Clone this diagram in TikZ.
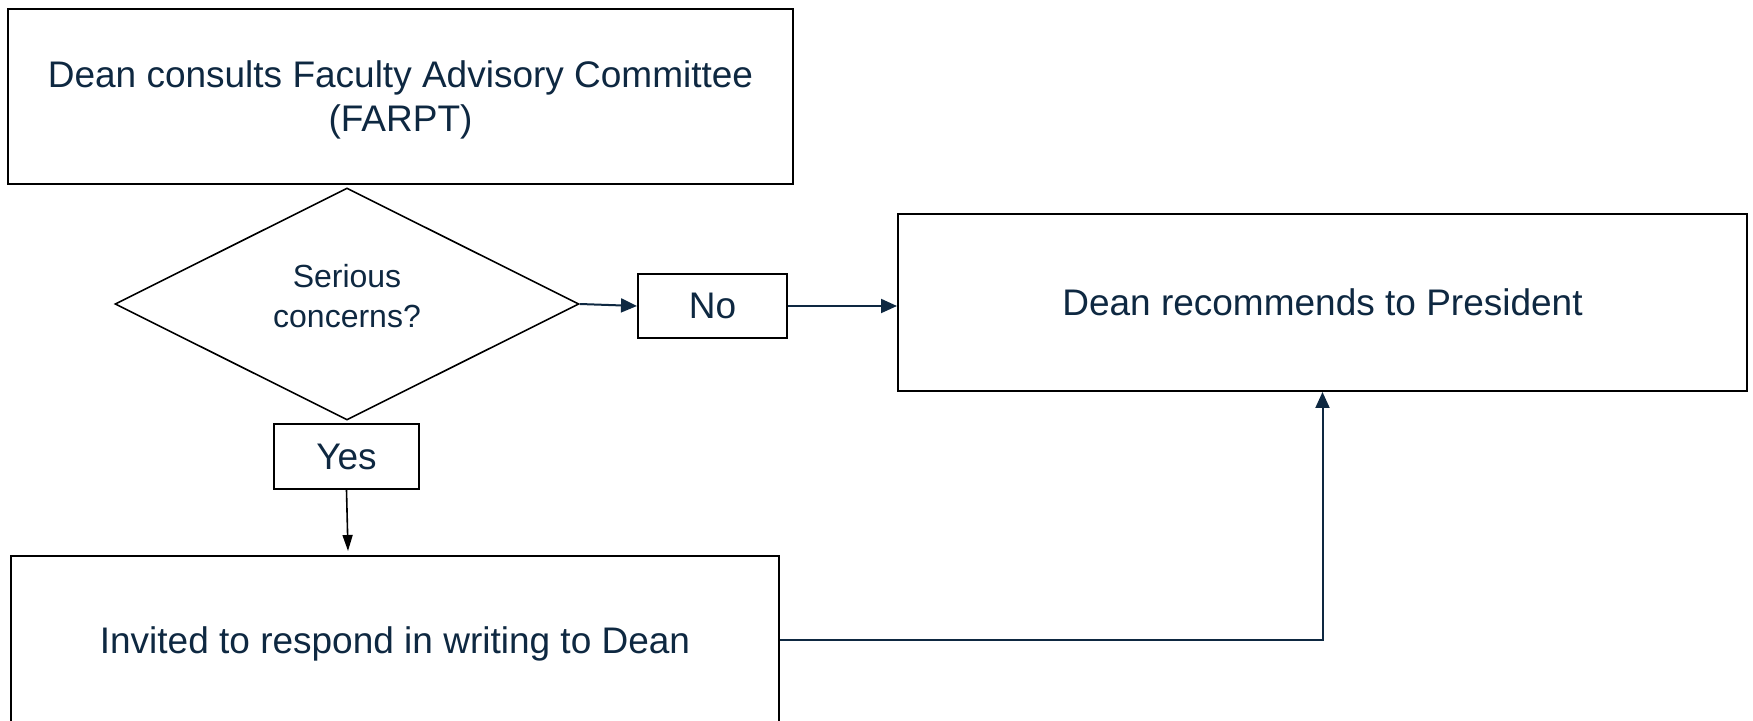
\documentclass[tikz,border=0pt]{standalone}
\usepackage{fontspec}
\setmainfont{Liberation Sans}
\usetikzlibrary{shapes.geometric,arrows.meta}
\definecolor{navy}{RGB}{14,40,65}
\newcommand{\liftlines}[2]{\raisebox{#1}[\height][\depth]{\begin{tabular}{@{}c@{}}#2\end{tabular}}}
\tikzset{
  box/.style={draw=black, line width=1pt, rectangle, inner sep=0pt, align=center,
    text=navy, font=\fontsize{18.5}{22}\selectfont},
  decision/.style={draw=black, line width=0.8pt, diamond, inner sep=0pt, align=center,
    text=navy, font=\fontsize{16}{20}\selectfont},
  conn/.style={line width=1pt, draw=navy, -{Triangle[length=8pt,width=7pt]}},
  connblack/.style={line width=0.8pt, draw=black, -{Triangle[length=8pt,width=5pt]}}
}
\begin{document}
\begin{tikzpicture}[x=0.5pt,y=-0.5pt]
\useasboundingbox (0,0) rectangle (1753,721);
\node[box, minimum width=392.5pt, minimum height=87.5pt] (top) at (400.5,96.5)
  {\liftlines{-2.2pt}{Dean consults Faculty Advisory Committee\\(FARPT)}};
\node[decision, minimum width=232pt, minimum height=116pt] (dec) at (347,304)
  {\liftlines{2.2pt}{Serious\\concerns?}};
\node[box, minimum width=74.5pt, minimum height=32pt] (no) at (712.5,306) {No};
\node[box, minimum width=72.5pt, minimum height=32.5pt] (yes) at (346.5,456.5) {Yes};
\node[box, minimum width=424.5pt, minimum height=88.5pt] (pres) at (1322.5,302.5)
  {Dean recommends to President};
\node[box, minimum width=384pt, minimum height=84pt] (inv) at (395,640)
  {\liftlines{-2.2pt}{Invited to respond in writing to Dean}};
\coordinate (yesend) at (348,551);
\draw[conn] (dec.east) -- (no.west);
\draw[conn] (no.east) -- (no.east -| pres.west);
\draw[connblack] (yes.south) -- (yesend);
\draw[conn] (inv.east) -| (pres.south);
\end{tikzpicture}
\end{document}
